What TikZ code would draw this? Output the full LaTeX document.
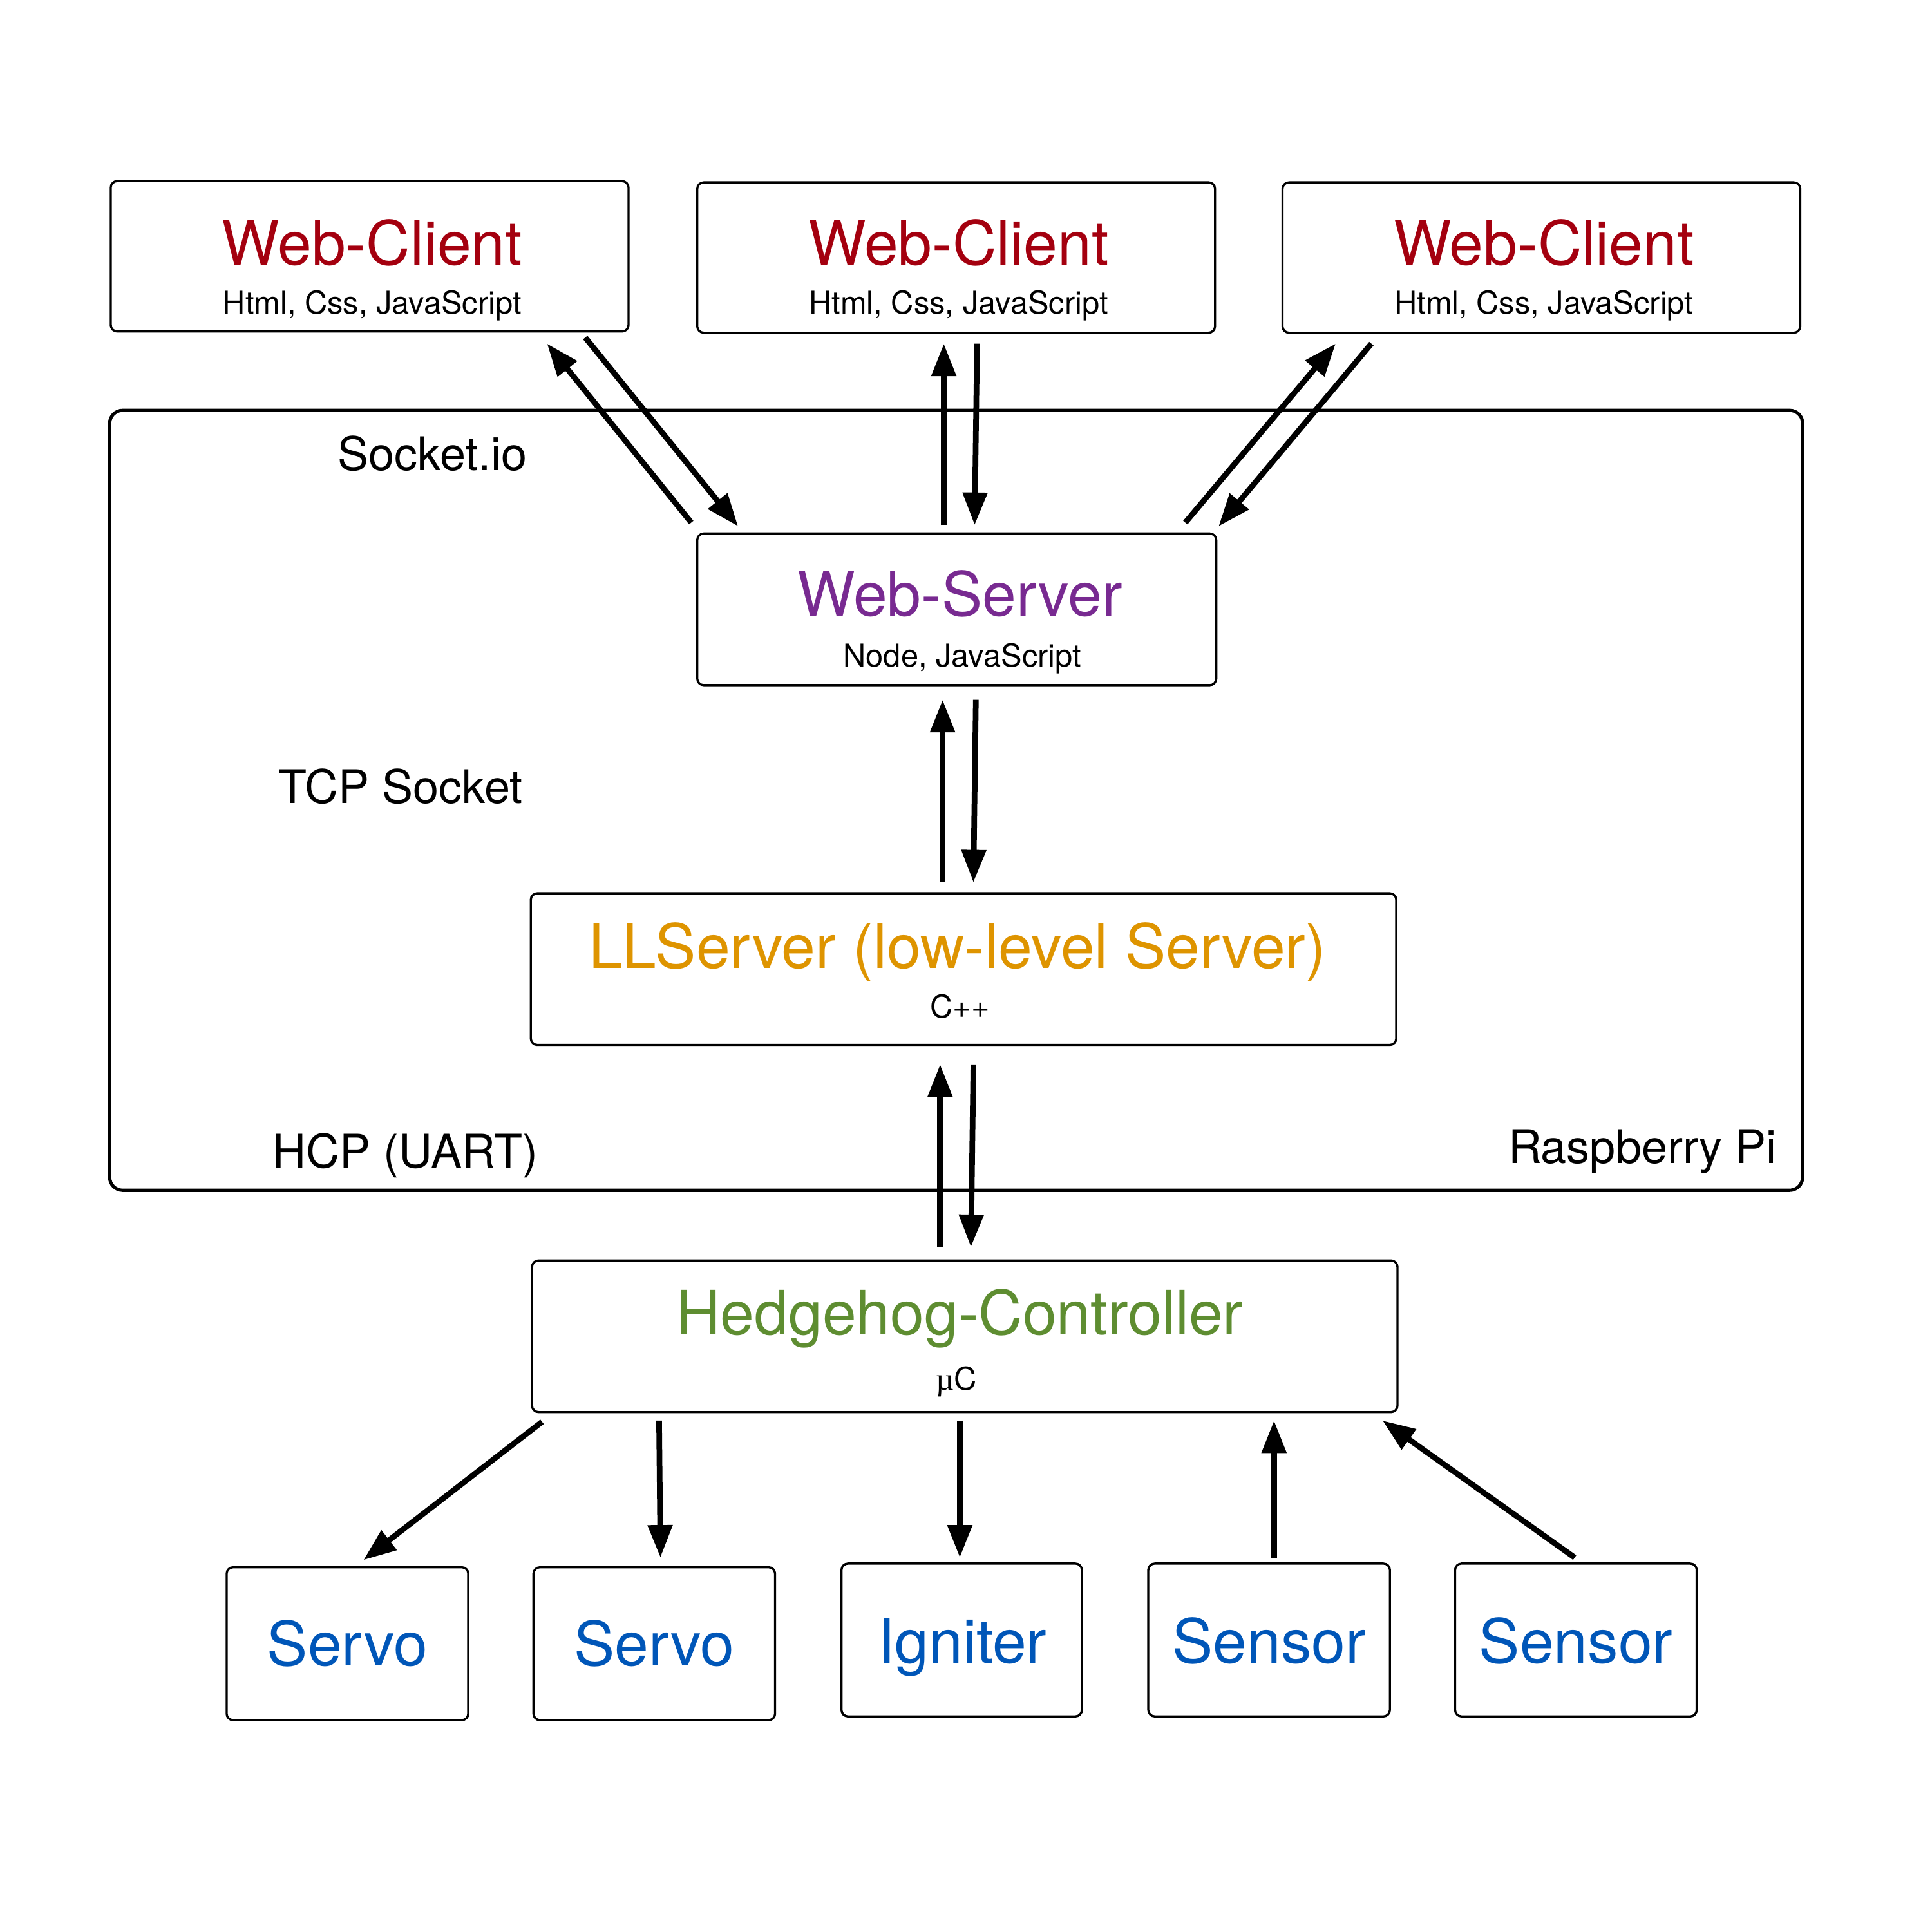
\documentclass[tikz,border=0pt]{standalone}
\usepackage{fontspec}
\setmainfont{TeX Gyre Heros}
\newfontfamily\serifmu{Liberation Serif}
\usetikzlibrary{calc,arrows.meta}
\definecolor{webred}{RGB}{164,0,15}
\definecolor{srvpurple}{RGB}{120,42,145}
\definecolor{llorange}{RGB}{222,148,0}
\definecolor{hhgreen}{RGB}{94,141,49}
\definecolor{devblue}{RGB}{0,86,184}
\begin{document}
\begin{tikzpicture}[x=0.01cm,y=-0.01cm,
  box/.style={draw=black,line width=0.5pt,rounded corners=1.5pt,inner sep=0pt,fill=white},
  title/.style={anchor=base,inner sep=0pt,font=\fontsize{14.1}{16}\selectfont},
  sub/.style={anchor=base,inner sep=0pt,font=\fontsize{7.25}{9}\selectfont},
  side/.style={anchor=base,inner sep=0pt,font=\fontsize{10.7}{12}\selectfont},
  arr/.style={line width=1.3pt,-{Triangle[length=7.5pt,width=5.5pt]}}]
\useasboundingbox (0,0) rectangle (1568,1568);
\fill[white] (0,0) rectangle (1568,1568);
% Raspberry Pi frame
\draw[line width=0.75pt,rounded corners=3pt] (89,333) rectangle (1463,966);
\node[side] (lsock) at (351,382) {Socket.io};
\node[side] (ltcp) at (325,652) {TCP Socket};
\node[side] (lhcp) at (329,948) {HCP (UART)};
\node[side] (lrpi) at (1333,944) {Raspberry Pi};
% clients
\node[box,minimum width=4.20cm,minimum height=1.22cm] (c1) at (300,208) {};
\node[box,minimum width=4.20cm,minimum height=1.22cm] (c2) at (776,209) {};
\node[box,minimum width=4.20cm,minimum height=1.22cm] (c3) at (1251,209) {};
\foreach \n/\x in {1/302,2/778,3/1253}{
  \node[title,text=webred] (c\n t) at (\x,215) {Web-Client};
  \node[sub] (c\n s) at (\x,255) {Html, Css, JavaScript};
}
% web server
\node[box,minimum width=4.21cm,minimum height=1.23cm] (ws) at (776.5,494.5) {};
\node[title,text=srvpurple] (wst) at (779,500) {Web-Server};
\node[sub] (wss) at (781,541) {Node, JavaScript};
% LL server
\node[box,minimum width=7.02cm,minimum height=1.23cm] (ll) at (782,786.5) {};
\node[title,text=llorange] (llt) at (777,786) {LLServer (low-level Server)};
\node[sub] (lls) at (779,826) {C++};
% hedgehog
\node[box,minimum width=7.02cm,minimum height=1.23cm] (hh) at (783,1084.5) {};
\node[title,text=hhgreen] (hht) at (779,1083) {Hedgehog-Controller};
\node[sub] (hhs) at (776,1128) {{\serifmu µ}C};
% devices
\node[box,minimum width=1.96cm,minimum height=1.24cm] (s1) at (282,1334) {};
\node[box,minimum width=1.96cm,minimum height=1.24cm] (s2) at (531,1334) {};
\node[box,minimum width=1.95cm,minimum height=1.24cm] (ig) at (780.5,1331) {};
\node[box,minimum width=1.96cm,minimum height=1.24cm] (sn1) at (1030,1331) {};
\node[box,minimum width=1.96cm,minimum height=1.24cm] (sn2) at (1279,1331) {};
\node[title,text=devblue] (s1t) at (282,1352) {Servo};
\node[title,text=devblue] (s2t) at (531,1352) {Servo};
\node[title,text=devblue] (igt) at (781,1350) {Igniter};
\node[title,text=devblue] (sn1t) at (1030,1350) {Sensor};
\node[title,text=devblue] (sn2t) at (1279,1350) {Sensor};
% client <-> web server
\draw[arr] ($(c1.south east)+(-36,4)$) -- ($(ws.north west)+(34,-5)$);
\draw[arr] ($(ws.north west)+(-4,-8)$) -- ($(c1.south east)+(-67,9)$);
\draw[arr] ($(ws.north)+(-10.5,-6)$) -- ($(c2.south)+(-10,8)$);
\draw[arr] ($(c2.south)+(17,8)$) -- ($(ws.north)+(14.5,-6)$);
\draw[arr] ($(ws.north east)+(-26,-8)$) -- ($(c3.south west)+(44,8)$);
\draw[arr] ($(c3.south west)+(73,8)$) -- ($(ws.north east)+(1,-5)$);
% web server <-> LL
\draw[arr] ($(ll.north)+(-17,-8)$) -- ($(ws.south)+(-11.5,11)$);
\draw[arr] ($(ws.south)+(15.5,11)$) -- ($(ll.north)+(8,-8)$);
% LL <-> hedgehog
\draw[arr] ($(hh.north)+(-20,-10)$) -- ($(ll.south)+(-19,15)$);
\draw[arr] ($(ll.south)+(8,15)$) -- ($(hh.north)+(5,-10)$);
% hedgehog <-> devices
\draw[arr] ($(hh.south west)+(9,7)$) -- ($(s1.north)+(13,-5)$);
\draw[arr] ($(hh.south west)+(104,6)$) -- ($(s2.north)+(5,-7)$);
\draw[arr] ($(hh.south)+(-4,6)$) -- ($(ig.north)+(-1.5,-4)$);
\draw[arr] ($(sn1.north)+(4,-4)$) -- ($(hh.south)+(251,6)$);
\draw[arr] ($(sn2.north)+(-1,-4)$) -- ($(hh.south east)+(-13,6)$);
\end{tikzpicture}
\end{document}
